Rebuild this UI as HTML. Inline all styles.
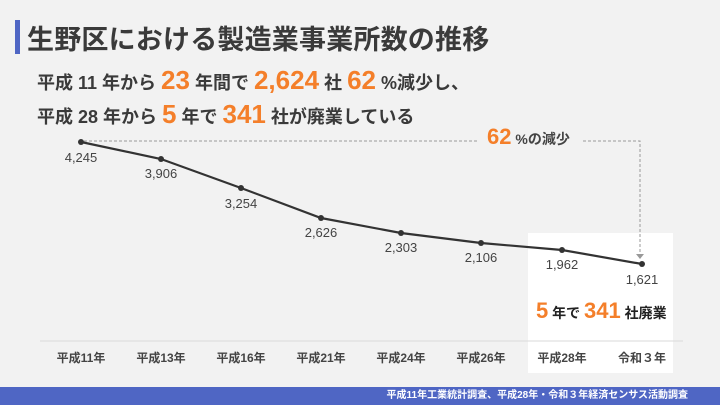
<!DOCTYPE html>
<html><head><meta charset="utf-8"><style>
body{margin:0;width:720px;height:405px;background:#f2f2f2;position:relative;overflow:hidden;font-family:"Liberation Sans","Noto Sans CJK JP",sans-serif;color:#333}
.a{position:absolute;white-space:nowrap}
.o{color:#f47f2a;font-weight:bold}
b{font-weight:bold}
</style></head><body>
<div class="a" style="left:15px;top:20px;width:5px;height:34px;background:#4f66c4"></div>
<div class="a" style="left:27px;top:18px;font-size:27px;font-weight:bold;color:#3a3a3a;letter-spacing:0.2px">生野区における製造業事業所数の推移</div>
<div class="a" style="left:37px;top:65px;font-size:18px;font-weight:bold;color:#3a3a3a">平成 11 年から <span class="o" style="font-size:26px">23</span> 年間で <span class="o" style="font-size:26px">2,624</span> 社 <span class="o" style="font-size:26px">62</span> %減少し、</div>
<div class="a" style="left:37px;top:99px;font-size:18px;font-weight:bold;color:#3a3a3a">平成 28 年から <span class="o" style="font-size:26px">5</span> 年で <span class="o" style="font-size:26px">341</span> 社が廃業している</div>
<div class="a" style="left:528px;top:233px;width:145px;height:140px;background:#fff"></div>
<svg class="a" style="left:0;top:0" width="720" height="405">
<line x1="84" y1="141" x2="477" y2="141" stroke="#999" stroke-dasharray="3,2" stroke-width="1"/>
<polyline points="583,141 640,141 640,254" fill="none" stroke="#999" stroke-dasharray="3,2" stroke-width="1"/>
<polygon points="636,254 644,254 640,259" fill="#999"/>
<line x1="40" y1="341" x2="683" y2="341" stroke="#d9d9d9" stroke-width="1"/>
<polyline points="81,142 161,159 241,188 321,218 401,233 481,243 562,250 642,264" fill="none" stroke="#333" stroke-width="2.2"/>
<g fill="#333"><circle cx="81" cy="142" r="3"/><circle cx="161" cy="159" r="3"/><circle cx="241" cy="188" r="3"/><circle cx="321" cy="218" r="3"/><circle cx="401" cy="233" r="3"/><circle cx="481" cy="243" r="3"/><circle cx="562" cy="250" r="3"/><circle cx="642" cy="264" r="3"/></g>
<g font-size="13" fill="#444" text-anchor="middle" font-family="Liberation Sans,sans-serif">
<text x="81" y="162">4,245</text><text x="161" y="178">3,906</text><text x="241" y="208">3,254</text><text x="321" y="237">2,626</text><text x="401" y="252">2,303</text><text x="481" y="262">2,106</text><text x="562" y="269">1,962</text><text x="642" y="284">1,621</text>
</g>
<g font-size="12" font-weight="bold" fill="#444" text-anchor="middle" font-family="Liberation Sans,Noto Sans CJK JP,sans-serif">
<text x="81" y="362">平成11年</text><text x="161" y="362">平成13年</text><text x="241" y="362">平成16年</text><text x="321" y="362">平成21年</text><text x="401" y="362">平成24年</text><text x="481" y="362">平成26年</text><text x="562" y="362">平成28年</text><text x="642" y="362">令和３年</text>
</g>
</svg>
<div class="a" style="left:487px;top:124px;font-size:14px;font-weight:bold;color:#444"><span class="o" style="font-size:22px">62</span> %の減少</div>
<div class="a" style="left:536px;top:298px;font-size:14px;font-weight:bold;color:#222"><span class="o" style="font-size:22px">5</span> 年で <span class="o" style="font-size:22px">341</span> 社廃業</div>
<div class="a" style="left:0;top:387px;width:720px;height:18px;background:#4f66c4"></div>
<div class="a" style="right:32px;top:388px;font-size:10px;font-weight:bold;color:#fff;line-height:16px">平成11年工業統計調査、平成28年・令和３年経済センサス活動調査</div>
</body></html>
